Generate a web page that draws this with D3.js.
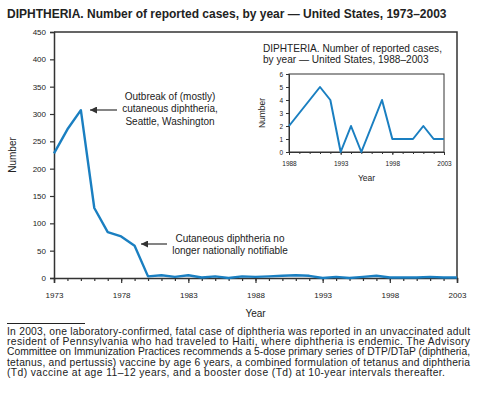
<!DOCTYPE html>
<html>
<head>
<meta charset="utf-8">
<script src="https://cdn.jsdelivr.net/npm/d3@7"></script>
<style>
  html, body { margin: 0; padding: 0; background: #fff; }
  svg { display: block; font-family: "Liberation Sans", Arial, sans-serif; }
</style>
</head>
<body>
<div id="chart"></div>
<script>
// data — reported diphtheria cases
const years = d3.range(1973, 2004);
const cases = [228, 272, 307, 128, 84, 76, 59, 3, 5, 2, 5, 1, 3, 0, 3, 2, 3, 4, 5, 4, 0, 2, 0, 2, 4, 1, 1, 1, 2, 1, 1];
const yTicks = [0, 50, 100, 150, 200, 250, 300, 350, 400, 450];
const xTickYears = [1973, 1978, 1983, 1988, 1993, 1998, 2003];

const insetYears = d3.range(1988, 2004);
const insetCases = [2, 3, 4, 5, 4, 0, 2, 0, 2, 4, 1, 1, 1, 2, 1, 1];
const insetYTicks = [0, 1, 2, 3, 4, 5, 6];
const insetXTickYears = [1988, 1993, 1998, 2003];

const footnote = [
  'In 2003, one laboratory-confirmed, fatal case of diphtheria was reported in an unvaccinated adult',
  'resident of Pennsylvania who had traveled to Haiti, where diphtheria is endemic. The Advisory',
  'Committee on Immunization Practices recommends a 5-dose primary series of DTP/DTaP (diphtheria,',
  'tetanus, and pertussis) vaccine by age 6 years, a combined formulation of tetanus and diphtheria',
  '(Td) vaccine at age 11\u201312 years, and a booster dose (Td) at 10-year intervals thereafter.'
];

const W = 477, H = 395;
const BLUE = '#1a7fc1', AX = '#333';

const svg = d3.select('#chart').append('svg').attr('width', W).attr('height', H);

svg.append('text').attr('x', 7).attr('y', 18)
  .attr('font-size', '12px').attr('font-weight', 'bold').attr('fill', '#222')
  .text('DIPHTHERIA. Number of reported cases, by year \u2014 United States, 1973\u20132003');

// main plot
const x = d3.scaleLinear().domain([1973, 2003]).range([54, 457]);
const y = d3.scaleLinear().domain([0, 450]).range([278, 32]);

// frame (top + right)
svg.append('path')
  .attr('d', `M${x(1973)},${y(450)}H${x(2003)}V${y(0)}`)
  .attr('fill', 'none').attr('stroke', AX).attr('stroke-width', 1.5);

const yAxis = svg.append('g').attr('transform', `translate(${x(1973)},0)`)
  .call(d3.axisLeft(y).tickValues(yTicks).tickSize(4).tickPadding(4));
const xMinor = svg.append('g').attr('transform', `translate(0,${y(0)})`)
  .call(d3.axisBottom(x).tickValues(years).tickSize(3).tickFormat(''));
const xAxis = svg.append('g').attr('transform', `translate(0,${y(0)})`)
  .call(d3.axisBottom(x).tickValues(xTickYears).tickSize(5).tickPadding(9).tickFormat(d3.format('d')));

[yAxis, xMinor, xAxis].forEach(g => {
  g.select('.domain').attr('stroke', AX).attr('stroke-width', 1.5);
  g.selectAll('line').attr('stroke', AX).attr('stroke-width', 1.2);
  g.selectAll('text').attr('font-size', '8px').attr('fill', '#222').attr('font-family', '"Liberation Sans", Arial, sans-serif');
});
xMinor.select('.domain').remove();

svg.append('text').attr('x', (x(1973) + x(2003)) / 2).attr('y', 317)
  .attr('text-anchor', 'middle').attr('font-size', '10px').attr('fill', '#222').text('Year');
svg.append('text').attr('transform', `translate(16,${(y(0) + y(450)) / 2}) rotate(-90)`)
  .attr('text-anchor', 'middle').attr('font-size', '10px').attr('fill', '#222').text('Number');

const line = d3.line().x((d, i) => x(years[i])).y(d => y(d));
svg.append('path').datum(cases).attr('d', line)
  .attr('fill', 'none').attr('stroke', BLUE).attr('stroke-width', 2.4).attr('stroke-linejoin', 'round');

// annotations
const defs = svg.append('defs');
defs.append('marker').attr('id', 'arr').attr('viewBox', '0 0 10 10')
  .attr('refX', 10).attr('refY', 5).attr('markerWidth', 9).attr('markerHeight', 7)
  .attr('markerUnits', 'userSpaceOnUse').attr('orient', 'auto')
  .append('path').attr('d', 'M10,5L0,0L0,10Z').attr('fill', AX);

function note(lines, cx, y0, ax1, ax2, ay) {
  const t = svg.append('text').attr('text-anchor', 'middle').attr('font-size', '10px').attr('fill', '#222');
  lines.forEach((s, i) => t.append('tspan').attr('x', cx).attr('y', y0 + i * 12.3).text(s));
  svg.append('line').attr('x1', ax1).attr('x2', ax2).attr('y1', ay).attr('y2', ay)
    .attr('stroke', AX).attr('stroke-width', 1.2).attr('marker-end', 'url(#arr)');
}
note(['Outbreak of (mostly)', 'cutaneous diphtheria,', 'Seattle, Washington'], 170, 100, 117, 90, 110);
note(['Cutaneous diphtheria no', 'longer nationally notifiable'], 230, 242, 167, 141, 244);

// inset
const ix = d3.scaleLinear().domain([1988, 2003]).range([289, 444]);
const iy = d3.scaleLinear().domain([0, 6]).range([152, 74]);

svg.append('text').attr('font-size', '10.1px').attr('fill', '#222')
  .selectAll('tspan').data(['DIPHTERIA. Number of reported cases,', 'by year \u2014 United States, 1988\u20132003'])
  .join('tspan').attr('x', 263).attr('y', (d, i) => 52 + i * 11).text(d => d);

svg.append('rect').attr('x', ix(1988)).attr('y', iy(6))
  .attr('width', ix(2003) - ix(1988)).attr('height', iy(0) - iy(6))
  .attr('fill', 'none').attr('stroke', AX).attr('stroke-width', 1);

const iyAxis = svg.append('g').attr('transform', `translate(${ix(1988)},0)`)
  .call(d3.axisLeft(iy).tickValues(insetYTicks).tickSize(3).tickPadding(3).tickFormat(d3.format('d')));
const ixMinor = svg.append('g').attr('transform', `translate(0,${iy(0)})`)
  .call(d3.axisBottom(ix).tickValues(insetYears).tickSize(2).tickFormat(''));
const ixAxis = svg.append('g').attr('transform', `translate(0,${iy(0)})`)
  .call(d3.axisBottom(ix).tickValues(insetXTickYears).tickSize(3).tickPadding(6).tickFormat(d3.format('d')));
[iyAxis, ixMinor, ixAxis].forEach(g => {
  g.select('.domain').attr('stroke', AX).attr('stroke-width', 1);
  g.selectAll('line').attr('stroke', AX).attr('stroke-width', 1);
  g.selectAll('text').attr('font-size', '6.5px').attr('fill', '#222').attr('font-family', '"Liberation Sans", Arial, sans-serif');
});
ixMinor.select('.domain').remove();

svg.append('text').attr('x', (ix(1988) + ix(2003)) / 2).attr('y', 181)
  .attr('text-anchor', 'middle').attr('font-size', '8.5px').attr('fill', '#222').text('Year');
svg.append('text').attr('transform', `translate(265,${(iy(0) + iy(6)) / 2}) rotate(-90)`)
  .attr('text-anchor', 'middle').attr('font-size', '8.5px').attr('fill', '#222').text('Number');

const iline = d3.line().x((d, i) => ix(insetYears[i])).y(d => iy(d));
svg.append('path').datum(insetCases).attr('d', iline)
  .attr('fill', 'none').attr('stroke', BLUE).attr('stroke-width', 2).attr('stroke-linejoin', 'round');

// footnote
svg.append('line').attr('x1', 7).attr('x2', 85).attr('y1', 323.5).attr('y2', 323.5)
  .attr('stroke', '#222').attr('stroke-width', 1);
const ft = svg.append('g').attr('font-size', '10.3px').attr('fill', '#222');
footnote.forEach((s, i) => {
  const last = i === footnote.length - 1;
  ft.append('text').attr('x', 7).attr('y', 334.5 + i * 10.4).text(s)
    .attr('textLength', last ? 438 : 463).attr('lengthAdjust', 'spacing');
});
</script>
</body>
</html>
